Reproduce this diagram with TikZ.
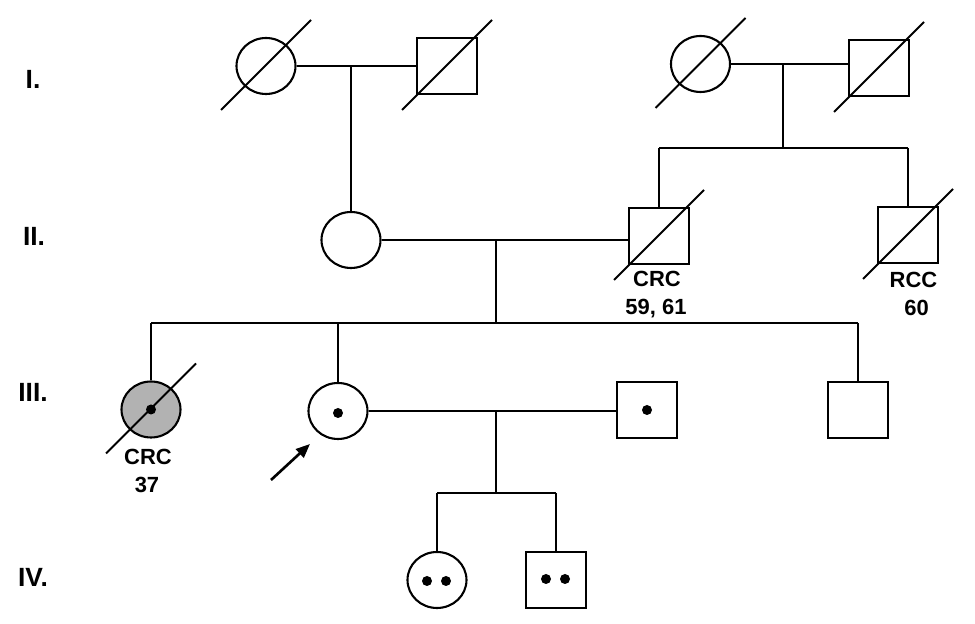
\documentclass[tikz,border=0pt]{standalone}
\usepackage{fontspec}
\setmainfont{Liberation Sans}
\usetikzlibrary{shapes.geometric,calc,arrows.meta}
\definecolor{affgray}{RGB}{178,178,178}
\tikzset{
  female/.style={draw, ellipse, line width=0.042cm, minimum width=1.18cm, minimum height=1.12cm, inner sep=0pt},
  male/.style={draw, rectangle, line width=0.04cm, minimum width=1.2cm, minimum height=1.12cm, inner sep=0pt},
  affected/.style={fill=affgray},
  ln/.style={line width=0.042cm},
  lbl/.style={font=\fontsize{12.5}{15}\selectfont\bfseries, inner sep=0pt, anchor=base},
  gen/.style={font=\fontsize{15}{18}\selectfont\bfseries, inner sep=0pt, anchor=base}
}
\newcommand{\deceased}[1]{\draw[ln] ($(#1)+(-45,44)$) -- ($(#1)+(45,-46)$);}
\newcommand{\carrierdot}[1]{\fill (#1) circle[radius=0.1cm];}
\begin{document}
\begin{tikzpicture}[x=0.02cm, y=-0.02cm]
\useasboundingbox (0,0) rectangle (975,624);

% generation labels
\node[gen] (gI) at (33,89) {I.};
\node[gen] (gII) at (34,246) {II.};
\node[gen] (gIII) at (33,402) {III.};
\node[gen] (gIV) at (33,587) {IV.};

% Generation I
\node[female] (i1) at (266,66) {};
\node[male] (i2) at (447,66) {};
\node[female] (i3) at (700.5,64) {};
\node[male] (i4) at (879,68) {};
\deceased{i1}
\deceased{i2}
\deceased{i3}
\deceased{i4}

% Generation II
\node[female] (ii1) at (351,240) {};
\node[male] (ii2) at (659,236) {};
\node[male] (ii3) at (908,235) {};
\deceased{ii2}
\deceased{ii3}
\node[lbl] (t1a) at (657,287) {CRC};
\node[lbl] (t1b) at (656,315) {59, 61};
\node[lbl] (t2a) at (913.5,288) {RCC};
\node[lbl] (t2b) at (916.5,316) {60};

% Generation III
\node[female, affected] (iii1) at (151,409.5) {};
\node[female] (iii2) at (338,411) {};
\node[male] (iii3) at (647,410) {};
\node[male] (iii4) at (858,410) {};
\deceased{iii1}
\carrierdot{iii1}
\fill ($(iii2)+(0,2)$) circle[radius=0.1cm];
\carrierdot{iii3}
\node[lbl] (t3a) at (148,465) {CRC};
\node[lbl] (t3b) at (147,493) {37};

% Generation IV
\node[female] (iv1) at (437,580) {};
\node[male] (iv2) at (556,580) {};
\fill ($(iv1)+(-10,1)$) circle[radius=0.1cm];
\fill ($(iv1)+(9,1)$) circle[radius=0.1cm];
\fill ($(iv2)+(-10,-1)$) circle[radius=0.1cm];
\fill ($(iv2)+(9,-1)$) circle[radius=0.1cm];

% coordinates of couple midpoints and sibship lines
\coordinate (m1) at (351,66);
\coordinate (m2) at (783,64);
\coordinate (s2) at (783,148);
\coordinate (m3) at (496,240);
\coordinate (s3) at (496,323);
\coordinate (m4) at (496,411);
\coordinate (s4) at (496,493);

% marriages
\draw[ln] (i1.east) -- (i2.west);
\draw[ln] (i3.east) -- (i3.east -| i4.west);
\draw[ln] (ii1.east) -- (ii1.east -| ii2.west);
\draw[ln] (iii2.east) -- (iii2.east -| iii3.west);

% descent I left
\draw[ln] (m1) -- (ii1.north);
% descent I right
\draw[ln] (m2) -- (s2);
\draw[ln] (ii2.north |- s2) -- (ii3.north |- s2);
\draw[ln] (ii2.north |- s2) -- (ii2.north);
\draw[ln] (ii3.north |- s2) -- (ii3.north);
% descent II
\draw[ln] (m3) -- (s3);
\draw[ln] (iii1.north |- s3) -- (iii4.north |- s3);
\draw[ln] (iii1.north |- s3) -- (iii1.north);
\draw[ln] (iii2.north |- s3) -- (iii2.north);
\draw[ln] (iii4.north |- s3) -- (iii4.north);
% descent III
\draw[ln] (m4) -- (s4);
\draw[ln] (iv1.north |- s4) -- (iv2.north |- s4);
\draw[ln] (iv1.north |- s4) -- (iv1.north);
\draw[ln] (iv2.north |- s4) -- (iv2.north);

% proband arrow
\coordinate (a0) at (271,480);
\coordinate (a1) at (310,444);
\draw[line width=1.5pt, -{Triangle[length=8pt,width=6.5pt]}] (a0) -- (a1);
\end{tikzpicture}
\end{document}
